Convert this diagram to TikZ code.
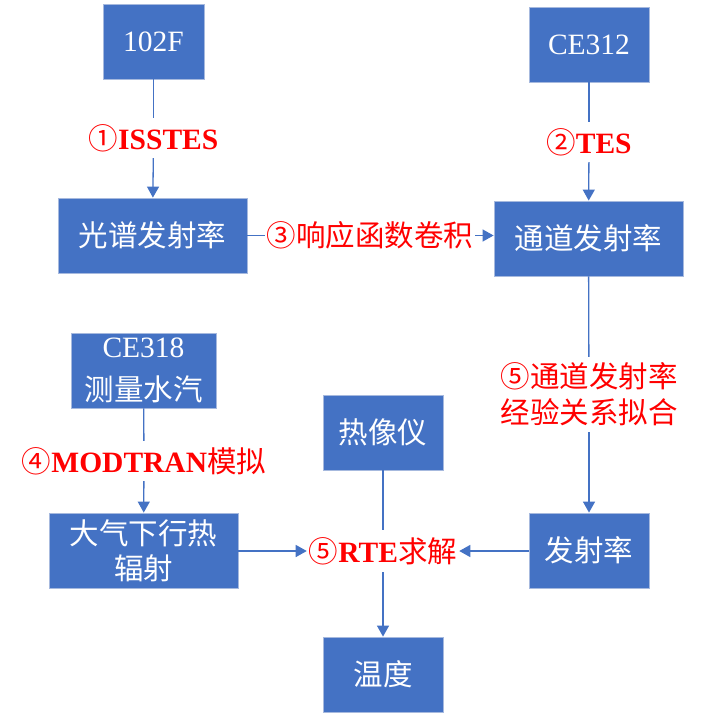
\documentclass[tikz,border=0pt]{standalone}
\usepackage{fontspec}
\setmainfont{Liberation Serif}
\newfontfamily\cjk{Noto Sans CJK SC}
\usetikzlibrary{arrows.meta}
\definecolor{boxblue}{HTML}{4472C4}
\definecolor{boxedge}{HTML}{A6B9DE}
\definecolor{lblred}{HTML}{FF0000}
\begin{document}
\begin{tikzpicture}[x=1pt,y=-1pt,
 box/.style={rectangle, fill=boxblue, draw=boxedge, line width=0.8pt, text=white, inner sep=0pt, align=center, minimum height=75pt, font=\fontsize{29.5}{36}\selectfont},
 lbl/.style={text=lblred, inner xsep=2pt, inner ysep=0pt, minimum height=40pt, align=center, font=\fontsize{29.5}{36}\selectfont},
 conn/.style={draw=boxblue, line width=1.3pt},
 arr/.style={conn, -{Triangle[length=11pt,width=12pt]}}
]
\useasboundingbox (0,0) rectangle (705,719);

% boxes
\node[box, minimum width=101pt] (n102) at (153.5,41.5) {102F};
\node[box, minimum width=120pt] (ce312) at (589,44.5) {CE312};
\node[box, minimum width=189pt] (gp) at (152.5,235.5) {\cjk 光谱发射率};
\node[box, minimum width=189pt] (td) at (588.5,238.5) {\cjk 通道发射率};
\node[box, minimum width=145pt, font=\fontsize{29.5}{43}\selectfont] (ce318) at (143.5,370.5) {CE318\\{\cjk 测量水汽}};
\node[box, minimum width=189pt, font=\fontsize{29.5}{35}\selectfont] (dq) at (143.5,550.5) {{\cjk 大气下行热}\\{\cjk 辐射}};
\node[box, minimum width=120pt] (rxy) at (383,432.5) {\cjk 热像仪};
\node[box, minimum width=120pt] (wd) at (383,674.5) {\cjk 温度};
\node[box, minimum width=120pt] (fsl) at (589,550.5) {\cjk 发射率};

% labels
\node[lbl] (l1) at (153.5,138) {{\cjk ①}\textbf{ISSTES}};
\node[lbl] (l2) at (589,142) {{\cjk ②}\textbf{TES}};
\node[lbl] (l3) at (370,235.5) {\cjk ③响应函数卷积};
\node[lbl] (l4) at (144,461) {{\cjk ④}\textbf{MODTRAN}{\cjk 模拟}};
\node[lbl, minimum height=75pt] (l5) at (589,394.5) {{\cjk ⑤通道发射率}\\{\cjk 经验关系拟合}};
\node[lbl, minimum height=42pt] (l6) at (383,551) {{\cjk ⑤}\textbf{RTE}{\cjk 求解}};

% connectors
\draw[conn] (n102) -- (l1);
\draw[arr] (l1) -- (gp);
\draw[conn] (ce312) -- (l2);
\draw[arr] (l2) -- (td);
\draw[conn] (gp.east |- l3) -- (l3.west);
\draw[arr] (l3.east) -- (l3.east -| td.west);
\draw[conn] (td) -- (l5);
\draw[arr] (l5) -- (fsl);
\draw[conn] (ce318) -- (l4);
\draw[arr] (l4) -- (dq);
\draw[conn] (rxy) -- (l6);
\draw[arr] (l6) -- (wd);
\draw[arr] (dq.east |- l6.west) -- (l6.west);
\draw[arr] (fsl.west |- l6.east) -- (l6.east);
\end{tikzpicture}
\end{document}
